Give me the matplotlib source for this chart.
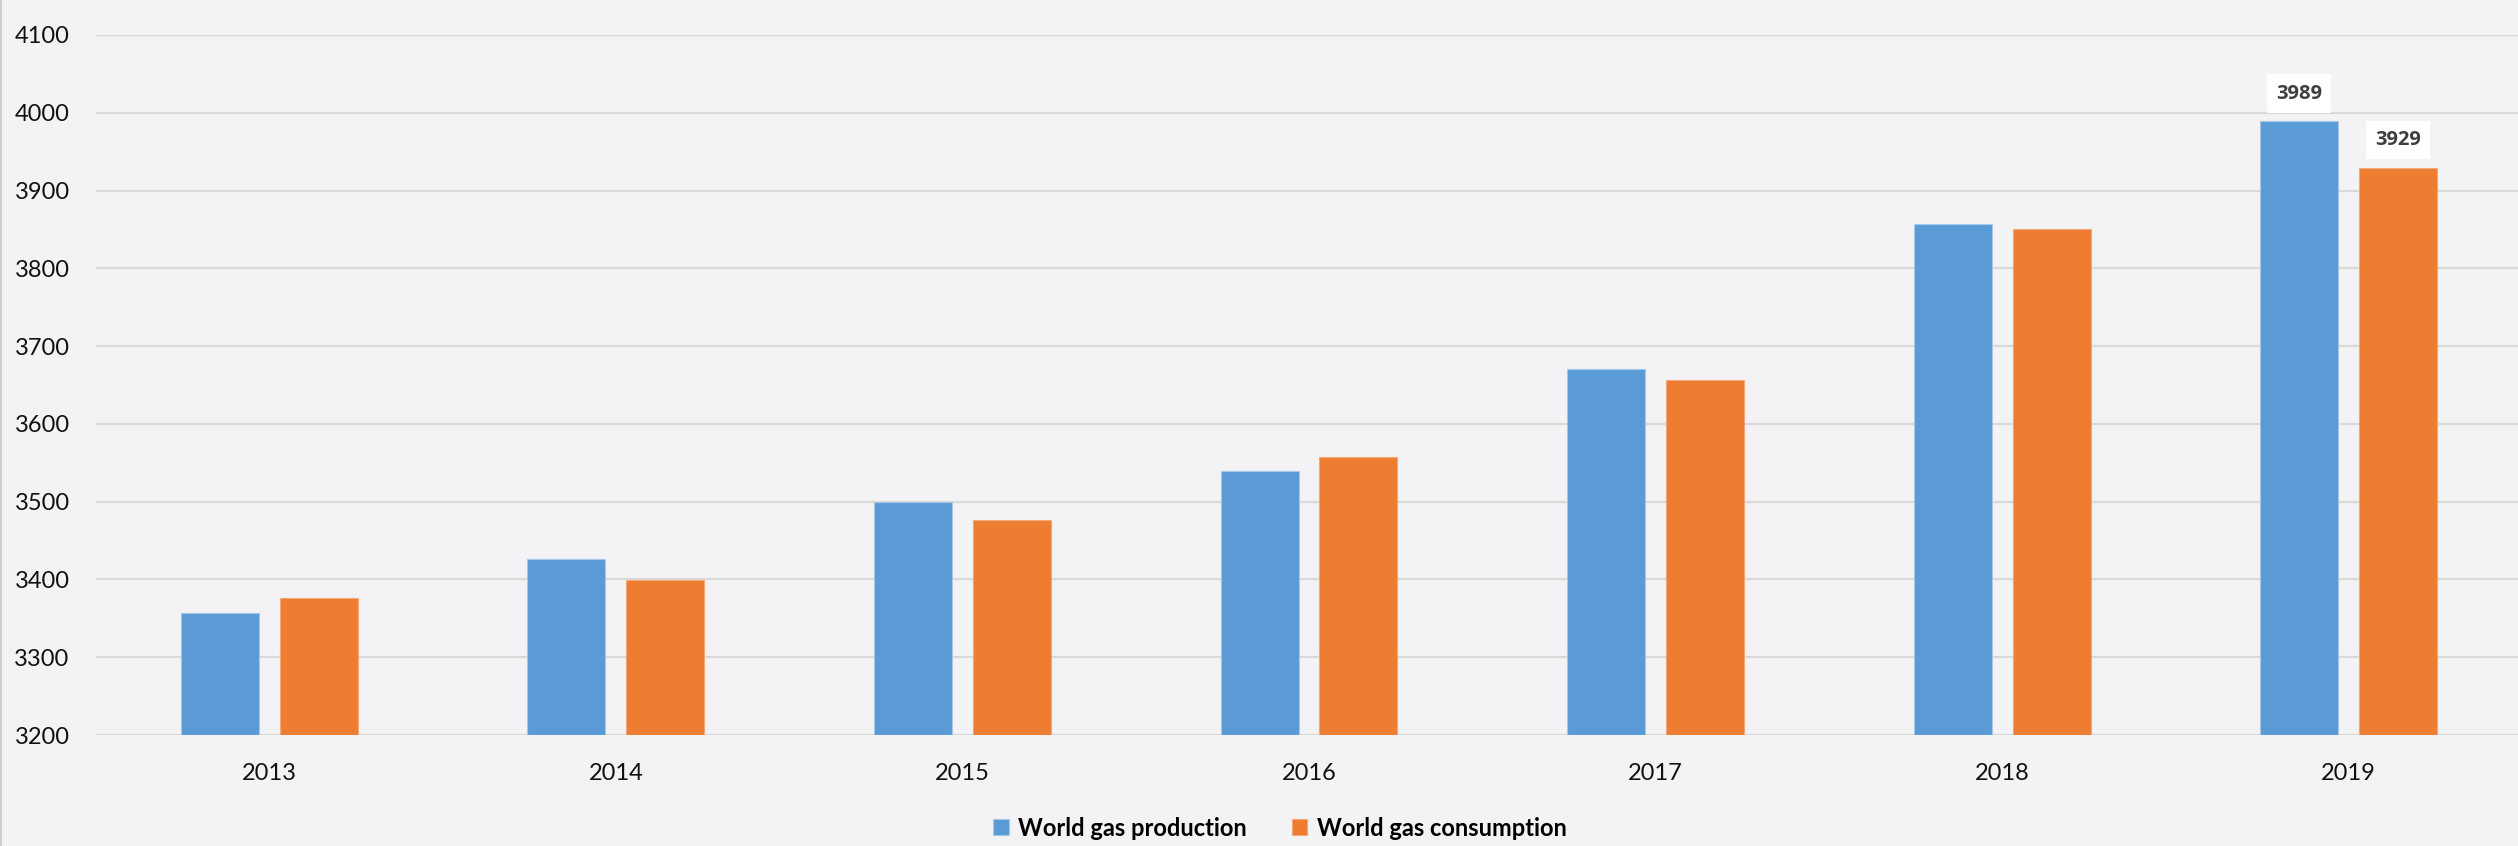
import matplotlib.pyplot as plt
from matplotlib.lines import Line2D
import numpy as np

# world natural gas, billion cubic metres
years = ["2013", "2014", "2015", "2016", "2017", "2018", "2019"]
production = [3357, 3426, 3500, 3540, 3671, 3857, 3989]
consumption = [3376, 3399, 3477, 3558, 3657, 3851, 3929]
labelled = [6]  # only the last year carries value labels

BLUE = "#5B9BD5"
ORANGE = "#ED7D31"
BG = "#F3F3F5"

plt.rcParams["font.family"] = ["Lato", "DejaVu Sans"]

fig = plt.figure(figsize=(25.18, 8.46), dpi=100, facecolor=BG)
ax = fig.add_axes([96 / 2518, 111 / 846, 2426 / 2518, 700 / 846])
ax.set_facecolor(BG)

x = np.arange(len(years))
w = 0.225
off = 0.1425
b1 = ax.bar(x - off, production, w, color=BLUE,
            edgecolor="#A4C8EA", linewidth=0.8, label="World gas production", zorder=3)
b2 = ax.bar(x + off, consumption, w, color=ORANGE,
            edgecolor="#F3A877", linewidth=0.8, label="World gas consumption", zorder=3)

ax.set_ylim(3200, 4100)
ax.set_xlim(-0.5, len(years) - 0.5)
ax.set_yticks(np.arange(3200, 4101, 100))
ax.set_xticks(x)
ax.set_xticklabels(years)
ax.grid(axis="y", color="#D9D9D9", linewidth=1.6, zorder=0)
ax.set_axisbelow(True)
for s in ax.spines.values():
    s.set_visible(False)
ax.tick_params(axis="y", length=0, pad=19, labelsize=17, labelcolor="#111111")
ax.tick_params(axis="x", length=0, pad=20, labelsize=17, labelcolor="#111111")

for bars, vals in ((b1, production), (b2, consumption)):
    for i in labelled:
        r = bars[i]
        ax.annotate(str(vals[i]), (r.get_x() + r.get_width() / 2, vals[i]),
                    xytext=(0, 20), textcoords="offset points",
                    ha="center", va="center", fontsize=14.5, fontweight="bold",
                    family=["Open Sans", "DejaVu Sans"], color="#404040", zorder=5,
                    bbox=dict(boxstyle="square,pad=0.45", fc="white", ec="none"))

fig.legend(handles=[b1, b2], loc="center", bbox_to_anchor=(1280 / 2518, 1 - 828 / 846),
           ncol=2, frameon=False, prop=dict(size=17, weight="bold"),
           handlelength=0.65, handleheight=0.65, handletextpad=0.4, columnspacing=1.9)

fig.add_artist(Line2D([0.0004, 0.0004], [0, 1], transform=fig.transFigure,
                      color="#D0D0D0", linewidth=1.5))

fig.savefig("out.png", dpi=100, facecolor=BG)
